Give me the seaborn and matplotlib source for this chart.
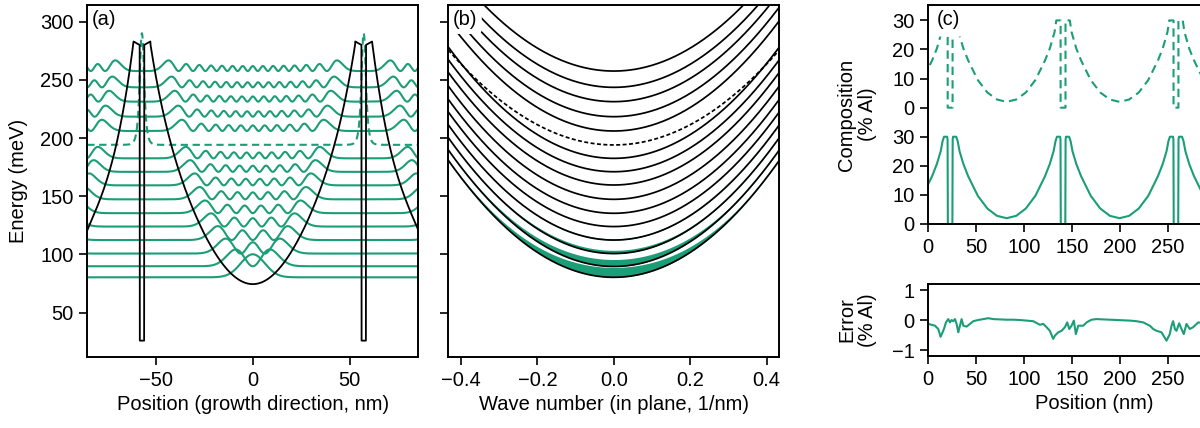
import numpy as np
import matplotlib
matplotlib.use("Agg")
import matplotlib.pyplot as plt
import seaborn as sns
import pandas as pd

# ---------------- data ----------------
# (a) conduction-band profile: half profile of the parabolic well (distance from centre nm, meV)
well_d = [0, 10, 20, 30, 35.7, 40, 45, 50, 52.8]
well_V = [75, 81.8, 102.5, 134, 161, 184, 214, 250, 283]
barrier_edge_V = 280.0      # barrier height next to the thin well
thin_well_V = 26.0          # bottom of the thin well
period_a = 114.3            # nm
barrier_top_d = 52.8        # nm from well centre
thin_well_d = 56.0          # nm from well centre (thin well edge)
# outer (neighbouring) wells as seen at the plot edges (x nm, meV), mirrored on the right
outer_x = [-85.3, -80, -76.8, -72, -68, -65, -61.5]
outer_V = [121, 142, 155, 185, 213, 240, 283]

# subband energies (meV) of the plotted states
level_E = [80.4, 89.9, 100.8, 112.4, 124.0, 135.5, 147.4, 159.4, 171.0,
           182.6, 206.1, 218.4, 231.3, 243.6, 257.6]
thin_state_E = 194.2        # state localised in the thin well (dashed)
ground_peak = 19.8          # height of the ground-state density bump (meV)
hb2m = 428.5                # hbar^2/2m* (meV nm^2)

# (b) in-plane dispersion: band edge and curvature of each subband
sub_E0 = [80.4, 89.7, 100.8, 112.4, 124.0, 135.4, 147.4, 159.7, 171.1,
          182.6, 194.1, 206.1, 218.4, 231.3, 243.6, 257.6]
sub_curv = [536, 534, 531, 528, 525, 522, 519, 516, 513, 510, 435,
            505, 502, 499, 496, 493]
sub_dashed = 10
occ_peak = [8.5, 6.0, 2.8, 1.1]    # thickness of the occupation band at k=0 (meV)
occ_decay = 40.0                   # meV

# (c) Al composition, one period from a well centre (nm, % Al)
comp_period = 117.7
comp_first_centre = 81.6
design_d = [0, 10, 20, 30, 40, 45, 50, 51.8, 56.3, 56.3, 61.4, 61.4, 65.9, 67.7, 72.7, 77.7, 87.7, 97.7, 107.7, 117.7]
design_al = [2, 2.8, 5.2, 9.5, 16.2, 20.3, 26.0, 30, 30, 0, 0, 30, 30, 26.0, 20.3, 16.2, 9.5, 5.2, 2.8, 2]
grown_d = [0, 10, 20, 30, 40, 45, 49, 51.0, 52.5, 55.8, 56.2, 56.5, 61.2, 61.5, 61.9, 65.2, 66.7, 68.7, 72.7, 77.7, 87.7, 97.7, 107.7, 117.7]
grown_al = [2, 2.8, 5.3, 9.7, 16.4, 20.6, 25.0, 28.5, 30, 30, 29, 0, 0, 29, 30, 30, 28.5, 25.0, 20.6, 16.4, 9.7, 5.3, 2.8, 2]
comp_offset = 40

err_x = [0, 3.5, 7, 10.4, 12.8, 14.9, 16.3, 18.4, 20.8, 22.6, 24.3, 26, 27.8, 29.5, 31.3, 33,
         34.7, 36.5, 39.9, 43.4, 46.9, 52, 57.3, 62.5, 67.7, 74.7, 81.6, 88.5, 95.5, 102.4,
         109.4, 116.3, 119.8, 123.3, 126.7, 130.2, 132, 135.4, 138.9, 142.4, 144.8, 146.9,
         149.3, 151.7, 153.8, 156.3, 161.5, 165, 170.1, 175.3, 182.3, 189.2, 196.2, 203.1,
         210.1, 217, 224, 230.9, 234.4, 237.8, 243.1, 248.3, 251.7, 253.5, 255.2, 257,
         258.7, 261.5, 263.9, 266.3, 269.1, 272.6, 276, 281.3, 286]
err_y = [-0.13, -0.16, -0.19, -0.3, -0.56, -0.41, -0.3, -0.08, 0.03, -0.08, 0, -0.04, 0.03,
         -0.13, -0.41, -0.19, 0.03, -0.19, -0.22, -0.13, -0.04, 0, 0.03, 0.06, 0.03, 0.02,
         0.01, 0.01, 0, -0.02, -0.04, -0.16, -0.13, -0.24, -0.36, -0.63, -0.52, -0.41, -0.36,
         -0.24, -0.08, -0.3, -0.19, -0.02, -0.47, -0.19, -0.19, -0.08, 0.01, 0.03, 0.02, 0.01,
         0, -0.01, -0.02, -0.04, -0.08, -0.19, -0.3, -0.36, -0.41, -0.69, -0.47, -0.19, -0.04,
         -0.3, -0.36, -0.11, -0.3, -0.47, -0.13, -0.3, -0.24, -0.08, -0.1]

# ---------------- style ----------------
sns.set_theme(style="ticks")
plt.rcParams.update({
    "font.family": ["Liberation Sans", "DejaVu Sans"],
    "font.size": 14.5,
    "axes.labelsize": 14.5,
    "xtick.labelsize": 14.5,
    "ytick.labelsize": 14.5,
    "axes.linewidth": 1.4,
    "xtick.major.width": 1.2,
    "ytick.major.width": 1.2,
    "xtick.major.size": 6,
    "ytick.major.size": 6,
    "xtick.major.pad": 4,
    "ytick.major.pad": 4,
    "axes.edgecolor": "black",
    "xtick.color": "black",
    "ytick.color": "black",
    "text.color": "black",
    "axes.labelcolor": "black",
})
green = sns.color_palette("Dark2")[0]

W, H = 1200, 428
fig = plt.figure(figsize=(W / 100, H / 100), dpi=100)


def px_axes(left, top, right, bottom):
    return fig.add_axes([left / W, 1 - bottom / H, (right - left) / W, (bottom - top) / H])


ax_a = px_axes(87.3, 4.7, 418.3, 356.7)
ax_b = px_axes(448.3, 4.7, 779.3, 356.7)
ax_c = px_axes(928.3, 5, 1259.3, 224)
ax_e = px_axes(928.3, 284, 1259.3, 356)

# ---------------- (a) ----------------
coef = np.polyfit(np.square(well_d), well_V, 3)
outer_coef = np.polyfit(outer_x, outer_V, 3)


def potential(x):
    d = np.abs(((np.asarray(x) + period_a / 2) % period_a) - period_a / 2)
    V = np.polyval(coef, d ** 2)
    V = np.where(d > barrier_top_d,
                 np.interp(d, [barrier_top_d, thin_well_d], [well_V[-1], barrier_edge_V]), V)
    V = np.where(d >= thin_well_d, thin_well_V, V)
    return V


N = 1143
xg = np.linspace(-period_a / 2, period_a / 2, N, endpoint=False)
dx = xg[1] - xg[0]
Vg = potential(xg)
t = hb2m / dx ** 2
Hm = np.diag(Vg + 2 * t) - t * np.eye(N, k=1) - t * np.eye(N, k=-1)
Hm[0, -1] = Hm[-1, 0] = -t
w, v = np.linalg.eigh(Hm)
dens = v[:, :22] ** 2 / dx
thin_frac = dens[np.abs(xg) >= thin_well_d - 1.5].sum(axis=0) / dens.sum(axis=0)
thin_idx = int(np.argmax(thin_frac))
other = [i for i in range(22) if i != thin_idx][:len(level_E)]
scale = ground_peak / dens[:, other[0]].max()

xa = np.linspace(-85.3, 85.3, 6001)
for E, i in zip(level_E, other):
    y = E + scale * np.interp(xa, xg, dens[:, i], period=period_a)
    ax_a.plot(xa, y, color=green, lw=1.5, zorder=2)
y = thin_state_E + scale * np.interp(xa, xg, dens[:, thin_idx], period=period_a)
ax_a.plot(xa, y, color=green, lw=1.5, ls=(0, (3.5, 2.2)), zorder=2)

Va = potential(xa)
outer = np.abs(xa) > -outer_x[-1]
Va = np.where(outer, np.polyval(outer_coef, -np.abs(xa)), Va)
ax_a.plot(xa, Va, color="black", lw=1.3, zorder=3)

ax_a.set_xlim(-85.3, 85.3)
ax_a.set_ylim(12.2, 314.6)
ax_a.set_xticks([-50, 0, 50])
ax_a.set_yticks([50, 100, 150, 200, 250, 300])
ax_a.set_xlabel("Position (growth direction, nm)")
ax_a.set_ylabel("Energy (meV)")
ax_a.text(0.012, 0.985, "(a)", transform=ax_a.transAxes, ha="left", va="top", zorder=2.4)

# ---------------- (b) ----------------
kk = np.linspace(-0.433, 0.433, 401)
for n, (E0, c) in enumerate(zip(sub_E0, sub_curv)):
    Ek = E0 + c * kk ** 2
    if n < len(occ_peak):
        thick = occ_peak[n] * np.exp(-(Ek - E0) / occ_decay)
        ax_b.fill_between(kk, Ek, Ek + thick, color=green, lw=0, zorder=1)
    ax_b.plot(kk, Ek, color="black", lw=1.25, ls=(0, (2.3, 1.4)) if n == sub_dashed else "-", zorder=2)
ax_b.set_xlim(-0.433, 0.433)
ax_b.set_ylim(12.2, 314.6)
ax_b.set_xticks([-0.4, -0.2, 0.0, 0.2, 0.4])
ax_b.set_yticks([50, 100, 150, 200, 250, 300])
ax_b.tick_params(labelleft=False)
ax_b.set_xlabel("Wave number (in plane, 1/nm)")
ax_b.text(0.012, 0.985, "(b)", transform=ax_b.transAxes, ha="left", va="top",
          bbox=dict(boxstyle="round,pad=0.25", fc="white", ec="none"), zorder=2.4)

# ---------------- (c) ----------------
def tile(dlist, vlist, offset=0.0):
    xs, ys = [], []
    for p in range(-1, 3):
        start = comp_first_centre + p * comp_period
        xs.extend([start + d for d in dlist])
        ys.extend([a + offset for a in vlist])
    return xs, ys


xd, yd = tile(design_d, design_al, comp_offset)
xgw, ygw = tile(grown_d, grown_al)
df_d = pd.DataFrame({"x": xd, "y": yd})
df_g = pd.DataFrame({"x": xgw, "y": ygw})
sns.lineplot(data=df_d, x="x", y="y", ax=ax_c, color=green, lw=1.5, sort=False,
             estimator=None, linestyle=(0, (4, 2.5)))
sns.lineplot(data=df_g, x="x", y="y", ax=ax_c, color=green, lw=1.5, sort=False, estimator=None)
ax_c.set_xlim(0, 345)
ax_c.set_ylim(0, 75.3)
ax_c.set_yticks([0, 10, 20, 30, 40, 50, 60, 70])
ax_c.set_yticklabels(["0", "10", "20", "30", "0", "10", "20", "30"])
ax_c.set_xticks([0, 50, 100, 150, 200, 250])
ax_c.set_xlabel("")
ax_c.set_ylabel("Composition\n(% Al)", linespacing=1.1)
ax_c.text(0.026, 0.975, "(c)", transform=ax_c.transAxes, ha="left", va="top",
          bbox=dict(boxstyle="round,pad=0.35", fc="white", ec="none"), zorder=2.4)

df_e = pd.DataFrame({"x": err_x, "y": err_y})
sns.lineplot(data=df_e, x="x", y="y", ax=ax_e, color=green, lw=1.5, sort=False, estimator=None)
ax_e.set_xlim(0, 345)
ax_e.set_ylim(-1.2, 1.2)
ax_e.set_yticks([-1, 0, 1])
ax_e.set_xticks([0, 50, 100, 150, 200, 250])
ax_e.set_xlabel("Position (nm)")
ax_e.set_ylabel("Error\n(% Al)", linespacing=1.1)

for ax in (ax_a, ax_b, ax_c, ax_e):
    for s in ax.spines.values():
        s.set_visible(True)
        s.set_linewidth(1.4)
        s.set_zorder(2.5)

ax_a.yaxis.set_label_coords(-0.18, 0.5)
ax_c.yaxis.set_label_coords(-0.155, 0.5)
ax_e.yaxis.set_label_coords(-0.155, 0.5)

fig.savefig("out.png", dpi=100)
